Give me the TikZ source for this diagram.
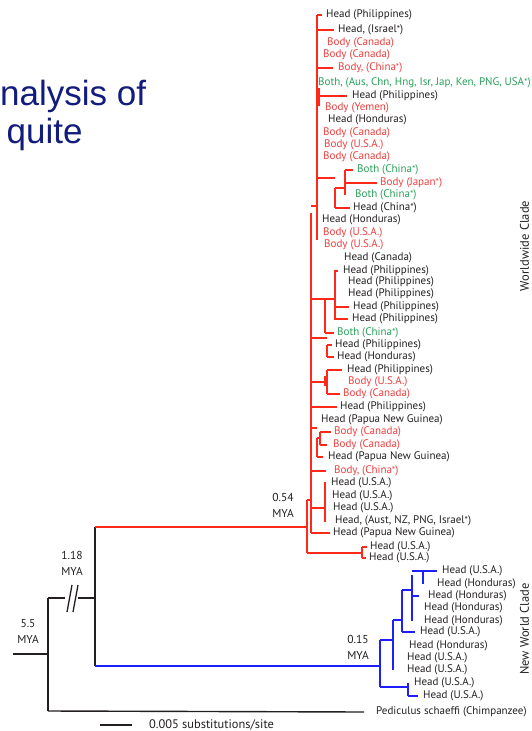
\documentclass[tikz,border=0pt]{standalone}
\usepackage{fontspec}
\setmainfont{PT Sans}
\newfontfamily\slidefont{Liberation Sans}
\definecolor{treered}{RGB}{255,40,25}
\definecolor{txtred}{RGB}{238,62,62}
\definecolor{txtgreen}{RGB}{40,160,90}
\definecolor{treeblue}{RGB}{30,30,255}
\definecolor{txtblack}{RGB}{35,31,32}
\definecolor{navy}{RGB}{18,28,125}
\newcommand\leaffont{\fontsize{11}{12}\selectfont}
\newcommand\myast{\raisebox{0.6pt}{\fontsize{9.5}{9.5}\selectfont *}}
\tikzset{
  rl/.style={draw=treered, line width=1.6pt},
  bl/.style={draw=treeblue, line width=1.8pt},
  kl/.style={draw=txtblack, line width=1.4pt},
  lf/.style={anchor=west, inner sep=0pt, font=\leaffont},
  hb/.style={lf, text=txtblack},
  hr/.style={lf, text=txtred},
  hg/.style={lf, text=txtgreen},
  ml/.style={align=center, inner sep=0pt, text=txtblack, font=\fontsize{11.5}{16}\selectfont},
  cl/.style={rotate=90, inner sep=0pt, text=txtblack, font=\fontsize{12.5}{15}\selectfont},
}
\begin{document}
\begin{tikzpicture}[x=1pt,y=-1pt]
\useasboundingbox (0,0) rectangle (532,731);
% slide text
\node[anchor=base west, inner sep=0pt, text=navy, font=\slidefont\fontsize{35}{40}\selectfont] (t1) at (0,105) {nalysis of};
\node[anchor=base west, inner sep=0pt, text=navy, font=\slidefont\fontsize{35}{40}\selectfont] (t2) at (6.5,143) {quite};

% ---------- leaves (red clade) ----------
\node[hb] (L1) at (326,15) {Head (Philippines)};
\node[hb] (L2) at (338,30) {Head, (Israel\myast)};
\node[hr] (L3) at (327,43) {Body (Canada)};
\node[hr] (L4) at (323,55) {Body (Canada)};
\node[hr] (L5) at (338,68) {Body, (China\myast)};
\node[hg] (L6) at (318,83) {Both, (Aus, Chn, Hng, Isr, Jap, Ken, PNG, USA\myast)};
\node[hb] (L7) at (352,96) {Head (Philippines)};
\node[hr] (L8) at (325,108) {Body (Yemen)};
\node[hb] (L9) at (328,120) {Head (Honduras)};
\node[hr] (L10) at (323,133) {Body (Canada)};
\node[hr] (L11) at (324,145) {Body (U.S.A.)};
\node[hr] (L12) at (323,157) {Body (Canada)};
\node[hg] (L13) at (357,170) {Both (China\myast)};
\node[hr] (L14) at (380,183) {Body (Japan\myast)};
\node[hg] (L15) at (355,195) {Both (China\myast)};
\node[hb] (L16) at (353,208) {Head (China\myast)};
\node[hb] (L17) at (322,220) {Head (Honduras)};
\node[hr] (L18) at (323,233) {Body (U.S.A.)};
\node[hr] (L19) at (324,245) {Body (U.S.A.)};
\node[hb] (L20) at (344,258) {Head (Canada)};
\node[hb] (L21) at (343,271) {Head (Philippines)};
\node[hb] (L22) at (348,282) {Head (Philippines)};
\node[hb] (L23) at (348,294) {Head (Philippines)};
\node[hb] (L24) at (353,307) {Head (Philippines)};
\node[hb] (L25) at (352,319) {Head (Philippines)};
\node[hg] (L26) at (337,333) {Both (China\myast)};
\node[hb] (L27) at (335,345) {Head (Philippines)};
\node[hb] (L28) at (337,357) {Head (Honduras)};
\node[hb] (L29) at (347,370) {Head (Philippines)};
\node[hr] (L30) at (348,382) {Body (U.S.A.)};
\node[hr] (L31) at (343,394) {Body (Canada)};
\node[hb] (L32) at (340,407) {Head (Philippines)};
\node[hb] (L33) at (321,420) {Head (Papua New Guinea)};
\node[hr] (L34) at (334,432) {Body (Canada)};
\node[hr] (L35) at (333,445) {Body (Canada)};
\node[hb] (L36) at (328,457) {Head (Papua New Guinea)};
\node[hr] (L37) at (334,471) {Body, (China\myast)};
\node[hb] (L38) at (331,483) {Head (U.S.A.)};
\node[hb] (L39) at (332,496) {Head (U.S.A.)};
\node[hb] (L40) at (333,508) {Head (U.S.A.)};
\node[hb] (L41) at (335,521) {Head, (Aust, NZ, PNG, Israel\myast)};
\node[hb] (L42) at (333,533) {Head (Papua New Guinea)};
\node[hb] (L43) at (370,547) {Head (U.S.A.)};
\node[hb] (L44) at (369,558) {Head (U.S.A.)};
% ---------- leaves (blue clade) ----------
\node[hb] (B1) at (442,571) {Head (U.S.A.)};
\node[hb] (B2) at (437,584) {Head (Honduras)};
\node[hb] (B3) at (428,596) {Head (Honduras)};
\node[hb] (B4) at (424,608) {Head (Honduras)};
\node[hb] (B5) at (424,621) {Head (Honduras)};
\node[hb] (B6) at (420,632) {Head (U.S.A.)};
\node[hb] (B7) at (409,646) {Head (Honduras)};
\node[hb] (B8) at (407,658) {Head (U.S.A.)};
\node[hb] (B9) at (407,670) {Head (U.S.A.)};
\node[hb] (B10) at (414,683) {Head (U.S.A.)};
\node[hb] (B11) at (423,696) {Head (U.S.A.)};
\node[hb] (chimp) at (376,712) {Pediculus schaeffi (Chimpanzee)};

% ---------- age labels ----------
\node[ml] (a55) at (28,631) {5.5\\MYA};
\node[ml] (a118) at (72,563) {1.18\\MYA};
\node[ml] (a054) at (283,505) {0.54\\MYA};
\node[ml] (a015) at (358,647) {0.15\\MYA};

% ---------- clade labels ----------
\node[cl] (ww) at (524.5,246) {Worldwide Clade};
\node[cl] (nw) at (524.5,629) {New World Clade};

% ---------- scale bar ----------
\coordinate (sb1) at (100,725);
\coordinate (sb2) at (132,725);
\draw[kl] (sb1) -- (sb2);
\node[lf, text=txtblack, font=\fontsize{12.4}{14}\selectfont] (sc) at (149,724.5) {0.005 substitutions/site};

% ---------- backbone (black) ----------
\coordinate (rs) at (13,654);
\coordinate (n55) at (48,654);
\coordinate (n55t) at (48,598);
\coordinate (n55b) at (48,711);
\coordinate (brk1) at (65,598);
\coordinate (brk2) at (78,598);
\coordinate (n118t) at (95,527);
\coordinate (n118) at (95,598);
\coordinate (n118b) at (95,666);
\draw[kl] (rs) -- (n55);
\draw[kl] (n55t) -- (n55b);
\draw[kl] (n55t) -- (brk1);
\draw[kl] (brk2) -- (n118);
\draw[kl, line width=1.3pt] (67,612) -- (72,585);
\draw[kl, line width=1.3pt] (73,612) -- (78,585);
\draw[kl] (n118t) -- (n118b);
\draw[kl] (n55b) -- ([xshift=-12pt]chimp.west);

% ---------- red clade ----------
\coordinate (n054) at (307,527);
\coordinate (n054t) at (307,500);
\coordinate (n054b) at (307,553);
\coordinate (s2t) at (311,213);
\coordinate (s2b) at (311,533);
\coordinate (s1t) at (317,15);
\coordinate (s1b) at (317,240);
\coordinate (s1x) at (319,88);
\coordinate (s1y) at (319,106);
\coordinate (c1t) at (335,188);
\coordinate (c1b) at (335,208);
\coordinate (c2t) at (345,170);
\coordinate (c2b) at (345,195);
\coordinate (pt) at (325,299);
\coordinate (pb) at (325,333);
\coordinate (qt) at (335,270);
\coordinate (qb) at (335,320);
\coordinate (ht) at (327,345);
\coordinate (hb) at (327,357);
\coordinate (gt) at (327,370);
\coordinate (gb) at (327,394);
\coordinate (g2t) at (325,376);
\coordinate (g2b) at (325,386);
\coordinate (kt) at (320,432);
\coordinate (kb) at (320,445);
\coordinate (jt) at (317,438);
\coordinate (jb) at (317,457);
\coordinate (ut) at (325,482);
\coordinate (ub) at (325,522);
\coordinate (vt) at (362,547);
\coordinate (vb) at (362,558);

\draw[rl] (n118t) -- (n054);
\draw[rl] (n054t) -- (n054b);
\draw[rl] (n054t) -- (n054t -| s2t);
\draw[rl] (s2t) -- (s2b);
\draw[rl] (s1t) -- (s1b);
\draw[rl] ([yshift=7pt]s2t) -- ([yshift=7pt]s2t -| s1t);
\draw[rl] (s1x) -- (s1y);
\draw[rl] (L1.west -| s1t) -- ([xshift=-4pt]L1.west);
\draw[rl] (L2.west -| s1t) -- ([xshift=-4pt]L2.west);
\draw[rl] (L4.west -| s1t) -- ([xshift=-3pt]L4.west -| s1x);
\draw[rl] (L5.west -| s1t) -- ([xshift=-5pt]L5.west);
\draw[rl] (L7.west -| s1t) -- ([xshift=-5pt]L7.west);
\draw[rl] (L9.west -| s1t) -- ([xshift=-3pt]L9.west -| s1x);
% China subclade
\draw[rl] ([yshift=10pt]c1t -| s1t) -- ([yshift=10pt]c1t);
\draw[rl] (c1t) -- (c1b);
\draw[rl] (c1t) -- (c1t -| c2t);
\draw[rl] (c2t) -- (c2b);
\draw[rl] (L13.west -| c2t) -- ([xshift=-4pt]L13.west);
\draw[rl] (L14.west -| c2t) -- ([xshift=-3pt]L14.west);
\draw[rl] (L16.west -| c1t) -- ([xshift=-3pt]L16.west);
% Philippines subclade
\draw[rl] (pt -| s2t) -- (pt);
\draw[rl] (pt) -- (pb);
\draw[rl] (pt) -- (pt -| qt);
\draw[rl] (qt) -- (qb);
\draw[rl] (L21.west -| qt) -- ([xshift=3pt]L21.west -| qt);
\draw[rl] (L24.west -| qt) -- ([xshift=-4pt]L24.west);
\draw[rl] (L25.west -| qt) -- ([xshift=-4pt]L25.west);
\draw[rl] (L26.west -| pt) -- ([xshift=-3pt]L26.west);
% Phil/Honduras pair
\draw[rl] ([yshift=7pt]ht -| s2t) -- ([yshift=7pt]ht);
\draw[rl] (ht) -- (hb);
\draw[rl] (L27.west -| ht) -- ([xshift=-3pt]L27.west);
\draw[rl] (L28.west -| ht) -- ([xshift=-3pt]L28.west);
% Phil/USA/Canada
\draw[rl] (L30.west -| s2t) -- (L30.west -| g2t);
\draw[rl] (gt) -- (gb);
\draw[rl] (g2t) -- (g2b);
\draw[rl] (L29.west -| gt) -- ([xshift=-5pt]L29.west);
\draw[rl] (L31.west -| gt) -- ([xshift=-3pt]L31.west);
\draw[rl] (L32.west -| s2t) -- ([xshift=-3pt]L32.west);
% Canada pair + PNG
\draw[rl] ([yshift=10pt]jt -| s2t) -- ([yshift=10pt]jt);
\draw[rl] (jt) -- (jb);
\draw[rl] (jt) -- (jt -| kt);
\draw[rl] (kt) -- (kb);
\draw[rl] (L34.west -| kt) -- ([xshift=-3pt]L34.west);
\draw[rl] (L35.west -| kt) -- ([xshift=-6pt]L35.west);
\draw[rl] (L36.west -| jt) -- ([xshift=-5pt]L36.west);
\draw[rl] (L37.west -| s2t) -- ([xshift=-8pt]L37.west);
% USA heads
\draw[rl] (L40.west -| s2t) -- (L40.west -| ut);
\draw[rl] (ut) -- (ub);
\draw[rl] (L42.west -| s2t) -- ([xshift=-3pt]L42.west);
% basal pair
\draw[rl] (n054b) -- (n054b -| vt);
\draw[rl] (vt) -- (vb);
\draw[rl] (L43.west -| vt) -- ([xshift=-3pt]L43.west);
\draw[rl] (L44.west -| vt) -- ([xshift=-3pt]L44.west);

% ---------- blue clade ----------
\coordinate (n015) at (380,666);
\coordinate (n015t) at (380,640);
\coordinate (n015b) at (380,687);
\coordinate (e1t) at (393,620);
\coordinate (e1b) at (393,670);
\coordinate (e2t) at (402,590);
\coordinate (e2b) at (402,632);
\coordinate (e3t) at (412,575);
\coordinate (e3b) at (412,621);
\coordinate (e4t) at (423,571);
\coordinate (e4b) at (423,584);
\coordinate (e5t) at (408,683);
\coordinate (e5b) at (408,696);
\draw[bl] (n118b) -- (n015);
\draw[bl] (n015t) -- (n015b);
\draw[bl] (n015t) -- (n015t -| e1t);
\draw[bl] (e1t) -- (e1b);
\draw[bl] (e1t) -- (e1t -| e2t);
\draw[bl] (e2t) -- (e2b);
\draw[bl] (e2t) -- (e2t -| e3t);
\draw[bl] (e3t) -- (e3b);
\draw[bl] ([yshift=4pt]e3t) -- ([yshift=4pt]e3t -| e4t);
\draw[bl] (e4t) -- (e4b);
\draw[bl] (B1.west -| e4t) -- ([xshift=-5pt]B1.west);
\draw[bl] (B3.west -| e3t) -- ([xshift=-9pt]B3.west);
\draw[bl] (B6.west -| e2t) -- ([xshift=-5pt]B6.west);
\draw[bl] (n015b) -- (n015b -| e5t);
\draw[bl] (e5t) -- (e5b);
\draw[bl] (B11.west -| e5t) -- ([xshift=-5pt]B11.west);
\end{tikzpicture}
\end{document}
